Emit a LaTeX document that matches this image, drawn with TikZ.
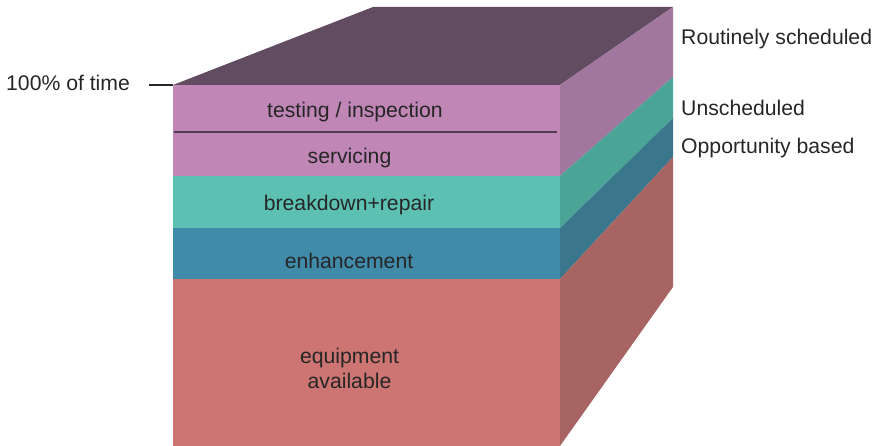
\documentclass[tikz,border=0pt]{standalone}
\usepackage{fontspec}
\setmainfont{Liberation Sans}
\definecolor{topc}{HTML}{614C62}
\definecolor{pinkF}{HTML}{C087B6}
\definecolor{pinkR}{HTML}{A1769F}
\definecolor{tealF}{HTML}{5CC1B3}
\definecolor{tealR}{HTML}{4BA597}
\definecolor{blueF}{HTML}{418BAA}
\definecolor{blueR}{HTML}{3A778D}
\definecolor{redF}{HTML}{CD7573}
\definecolor{redR}{HTML}{A86462}
\definecolor{txt}{HTML}{262626}
\begin{document}
\begin{tikzpicture}[x=1pt,y=-1pt,
  lbl/.style={text=txt,font=\fontsize{21.2}{25}\selectfont,inner sep=0pt},
  sidelbl/.style={lbl,anchor=west},
  centerlbl/.style={lbl,align=center}]
\useasboundingbox (0,0) rectangle (876,446);
% top face
\fill[topc] (173,85) -- (560,85) -- (673,7) -- (373,7) -- cycle;
% front face layers
\fill[pinkF] (173,85) rectangle (560,176);
\fill[tealF] (173,176) rectangle (560,228);
\fill[blueF] (173,228) rectangle (560,279);
\fill[redF] (173,279) rectangle (560,446);
% right face layers
\fill[pinkR] (560,85) -- (673,7) -- (673,77) -- (560,176) -- cycle;
\fill[tealR] (560,176) -- (673,77) -- (673,118) -- (560,228) -- cycle;
\fill[blueR] (560,228) -- (673,118) -- (673,157) -- (560,279) -- cycle;
\fill[redR] (560,279) -- (673,157) -- (673,287) -- (560,446) -- cycle;
% separator line
\coordinate (sepL) at (174,132);
\coordinate (sepR) at (557,132);
\draw[line width=1.4pt,color=topc!80!black] (sepL) -- (sepR);
% labels on front
\node[centerlbl] (ti) at (355,112.5) {testing / inspection};
\node[centerlbl] (sv) at (349.5,158) {servicing};
\node[centerlbl] (br) at (349,205) {breakdown+repair};
\node[centerlbl] (en) at (349,261) {enhancement};
\node[centerlbl] (eq) at (349.5,368) {equipment\\available};
% side labels
\node[sidelbl] (rs) at (681,39) {Routinely scheduled};
\node[sidelbl] (un) at (681,108) {Unscheduled};
\node[sidelbl] (op) at (681,148) {Opportunity based};
% 100% label
\node[lbl,anchor=west] (pct) at (6,83) {100\% of time};
\coordinate (corner) at (173,85);
\coordinate (dashstart) at (149,85);
\draw[line width=1.3pt,color=txt] (dashstart) -- (corner);
\end{tikzpicture}
\end{document}
